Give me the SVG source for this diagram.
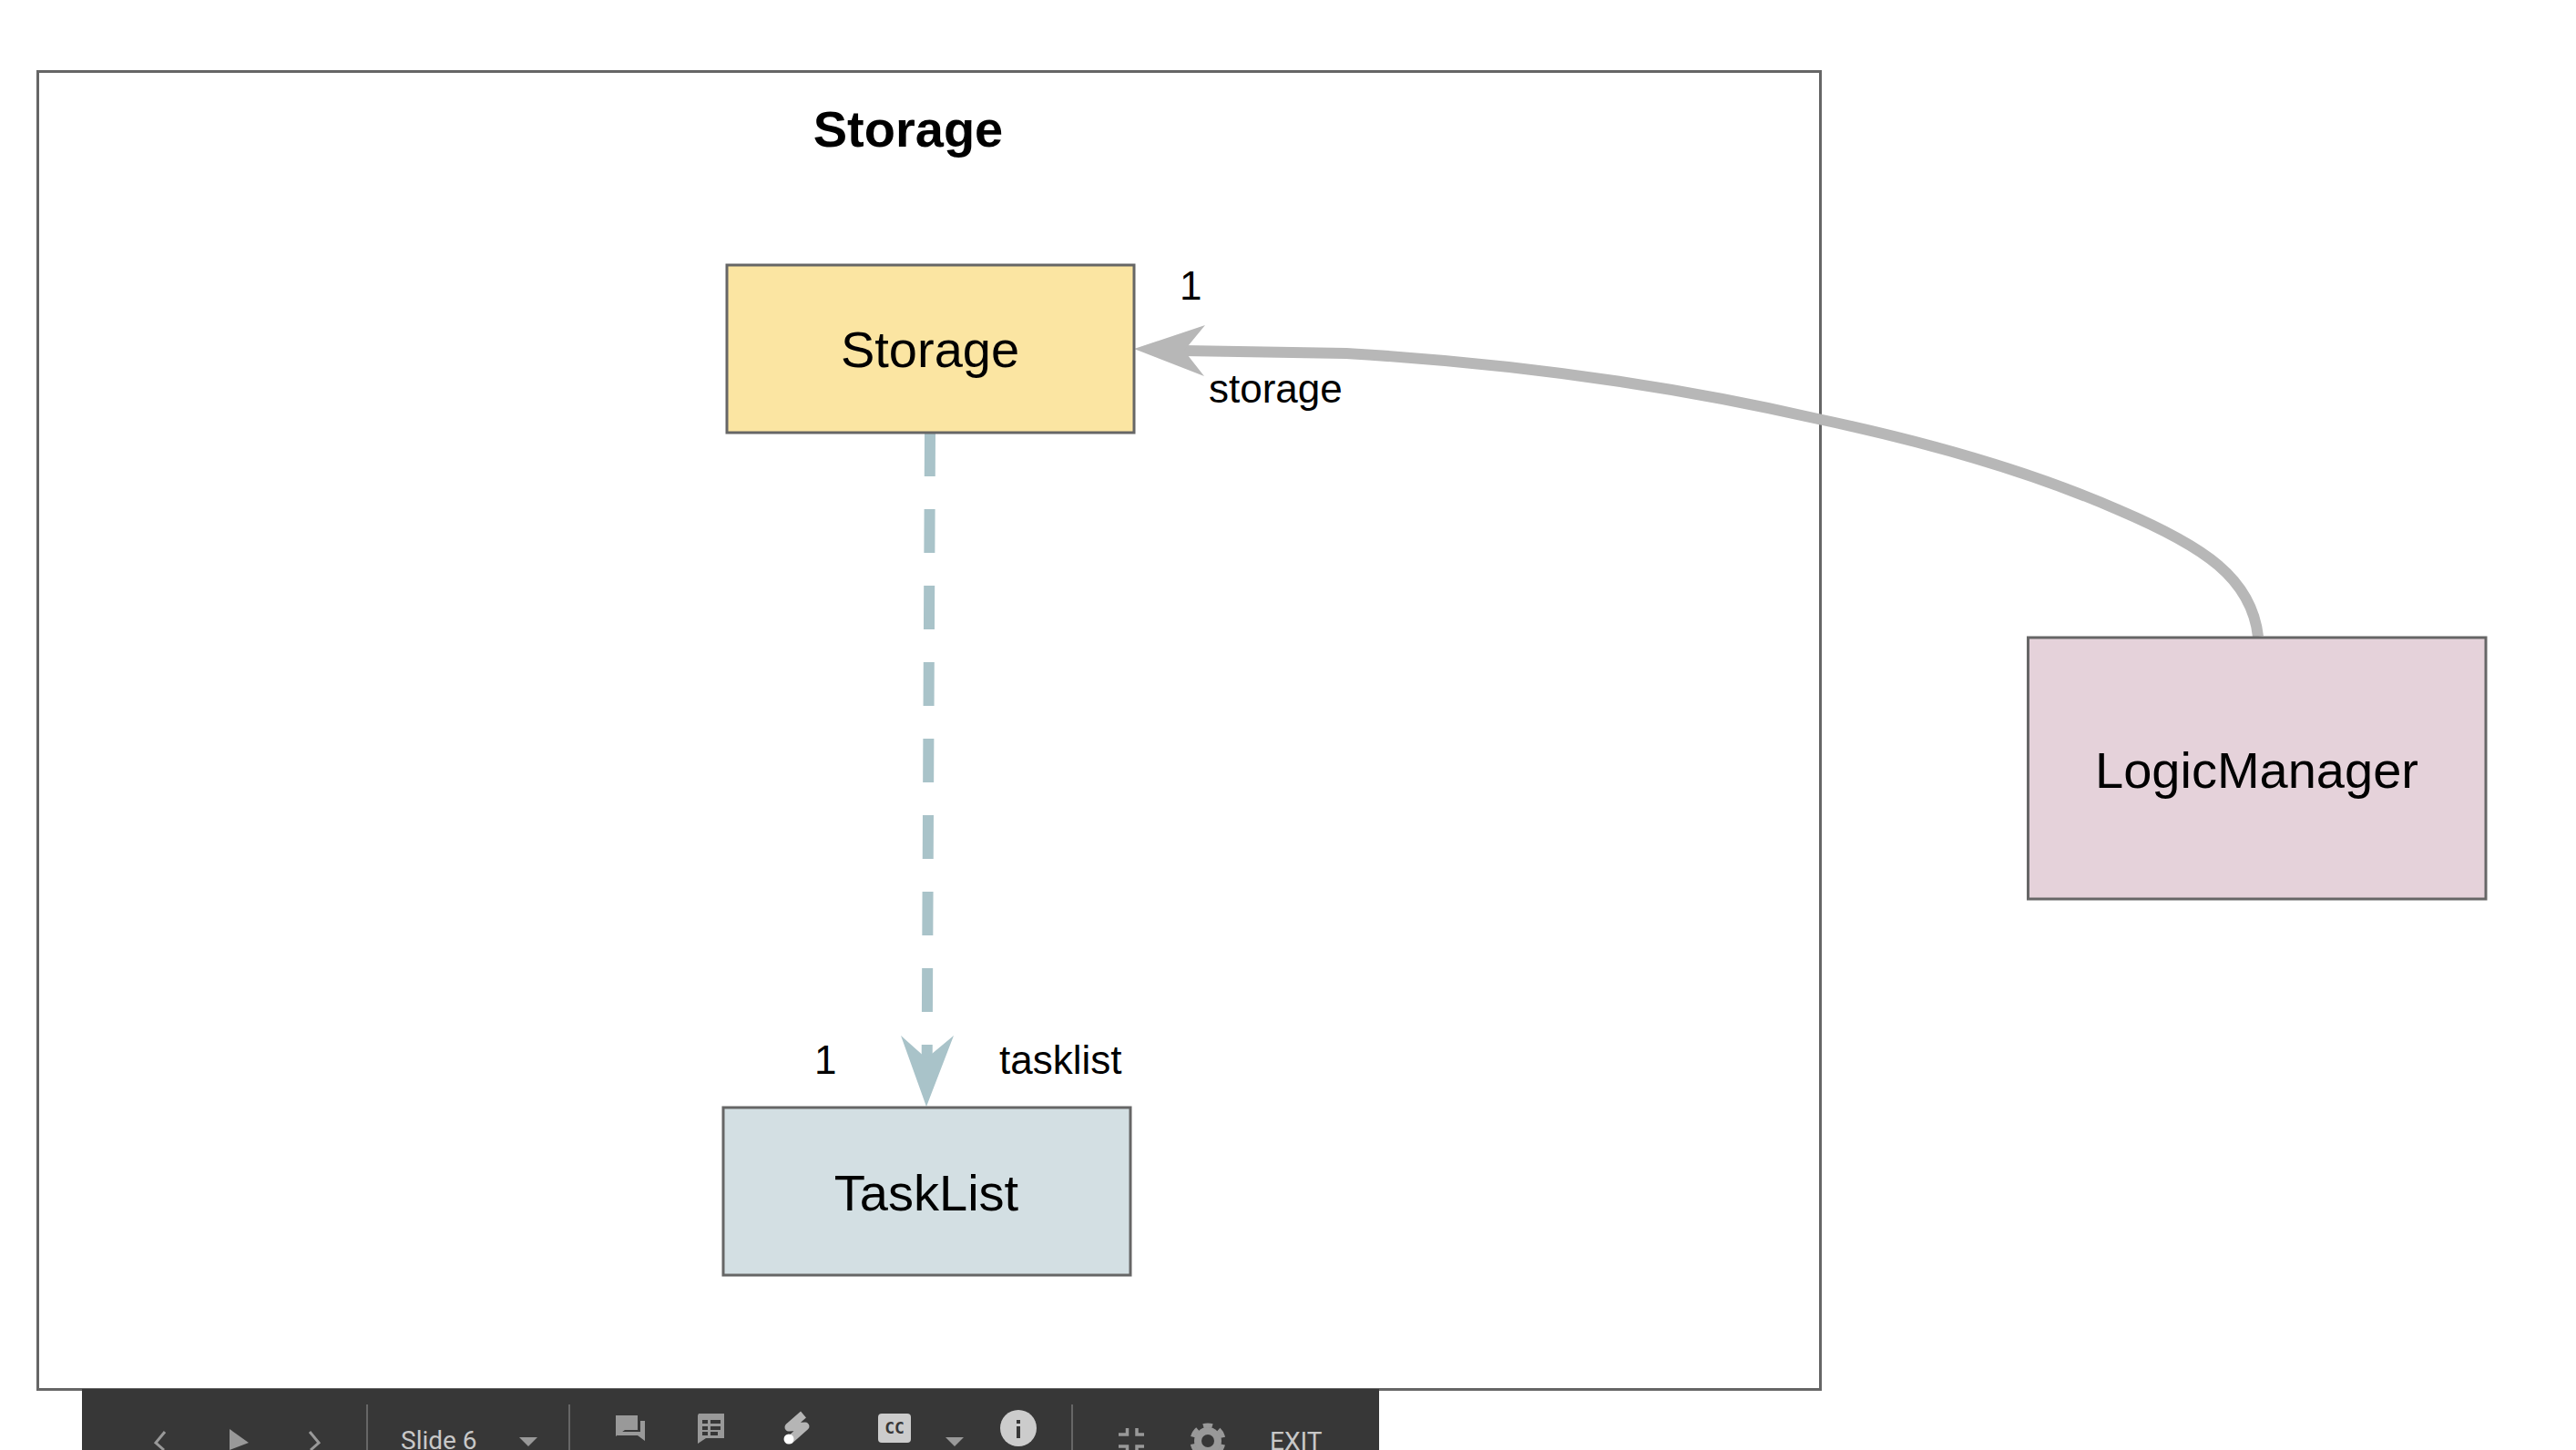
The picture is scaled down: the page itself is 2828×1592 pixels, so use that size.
<svg xmlns="http://www.w3.org/2000/svg" width="2828" height="1592" viewBox="0 0 2828 1592">
<style>
.box{stroke:#666;stroke-width:3}
.t{font-family:"Liberation Sans",Arial,sans-serif;fill:#000}
.node{font-size:56px;text-anchor:middle}
.lab{font-size:44px}
.ui{font-family:Roboto,sans-serif;font-size:28px;fill:#c8c8c8}
.ic{fill:#999}
.sep{stroke:#666;stroke-width:2}
</style>
<rect width="2828" height="1592" fill="#fff"/>
<g id="frame">
<rect class="box" x="41.5" y="78.5" width="1957" height="1447" fill="#fff"/>
<text class="t" x="997" y="161" font-size="56" font-weight="bold" text-anchor="middle">Storage</text>
</g>
<g id="connectors">
<path d="M2479 699C2472 635 2420 600 2326 560C2230 518 2110 484 1996 460C1830 422 1650 398 1478 388L1300 385" fill="none" stroke="#b7b7b7" stroke-width="12"/>
<polygon points="1245,383 1323,357 1300,385 1322,413" fill="#b7b7b7"/>
<path d="M1021 475L1017.5 1200" fill="none" stroke="#a9c3c9" stroke-width="12" stroke-dasharray="48 36"/>
<polygon points="1017,1215 989,1137 1017,1162 1047,1137" fill="#a9c3c9"/>
</g>
<g id="node-storage">
<rect class="box" x="798" y="291" width="447" height="184" fill="#fbe5a2"/>
<text class="t node" x="1021" y="403">Storage</text>
</g>
<g id="node-tasklist">
<rect class="box" x="794" y="1216" width="447" height="184" fill="#d3dfe3"/>
<text class="t node" x="1017" y="1329">TaskList</text>
</g>
<g id="node-logicmanager">
<rect class="box" x="2226.5" y="700" width="502.5" height="287" fill="#e5d2da"/>
<text class="t node" x="2477.5" y="865">LogicManager</text>
</g>
<g id="labels">
<text class="t lab" x="1295" y="329">1</text>
<text class="t lab" x="1327" y="442">storage</text>
<text class="t lab" x="894" y="1179">1</text>
<text class="t lab" x="1097" y="1179">tasklist</text>
</g>
<g id="toolbar">
<rect x="90" y="1525" width="1424" height="67" fill="#373737"/>
<path d="M181 1572L171 1584L180 1592M340 1572L350 1584L341 1592" fill="none" stroke="#999" stroke-width="3"/>
<polygon class="ic" points="252,1569 273,1584 252,1592"/>
<line class="sep" x1="403" y1="1542" x2="403" y2="1592"/>
<line class="sep" x1="625" y1="1542" x2="625" y2="1592"/>
<line class="sep" x1="1177" y1="1542" x2="1177" y2="1592"/>
<text class="ui" x="440" y="1591">Slide 6</text>
<polygon class="ic" points="570,1578 590,1578 580,1588"/>
<polygon class="ic" points="1038,1578 1058,1578 1048,1588"/>
<path class="ic" d="M676 1554h24v16h-14l-10 7z"/>
<path class="ic" d="M703 1560h5v22l-8-6h-22v-4h25z"/>
<path class="ic" d="M767 1552h28v27h-20l-9 6v-31z"/>
<path fill="#373737" d="M771 1559h6v4h-6zM780 1559h11v4h-11zM771 1566h6v4h-6zM780 1566h11v4h-11zM771 1572h6v4h-6zM780 1572h8v4h-8z"/>
<path fill="none" stroke="#b5b5b5" stroke-width="9" stroke-linejoin="round" d="M882 1553L866 1567L884 1566L866 1582"/>
<circle cx="866" cy="1580" r="5.5" fill="#fff"/>
<rect x="964" y="1552" width="36" height="32" rx="4" fill="#ccc"/>
<text x="982" y="1574" font-family="DejaVu Sans Mono,monospace" font-size="18" font-weight="bold" fill="#373737" text-anchor="middle">CC</text>
<circle cx="1118" cy="1568" r="20" fill="#ccc"/>
<rect x="1116" y="1566" width="4" height="13" fill="#373737"/>
<rect x="1116" y="1559" width="4" height="4" fill="#373737"/>
<path fill="none" stroke="#999" stroke-width="3.5" d="M1228 1575H1237.5V1568M1256 1575H1248V1568M1228 1588H1237.5V1592M1256 1588H1248V1592"/>
<circle cx="1326" cy="1582" r="15" fill="#999"/>
<circle cx="1326" cy="1582" r="17" fill="none" stroke="#999" stroke-width="5" stroke-dasharray="10 7.8" transform="rotate(-107 1326 1582)"/>
<circle cx="1326" cy="1582" r="7" fill="#373737"/>
<text class="ui" x="1394" y="1592">EXIT</text>
</g>
</svg>
